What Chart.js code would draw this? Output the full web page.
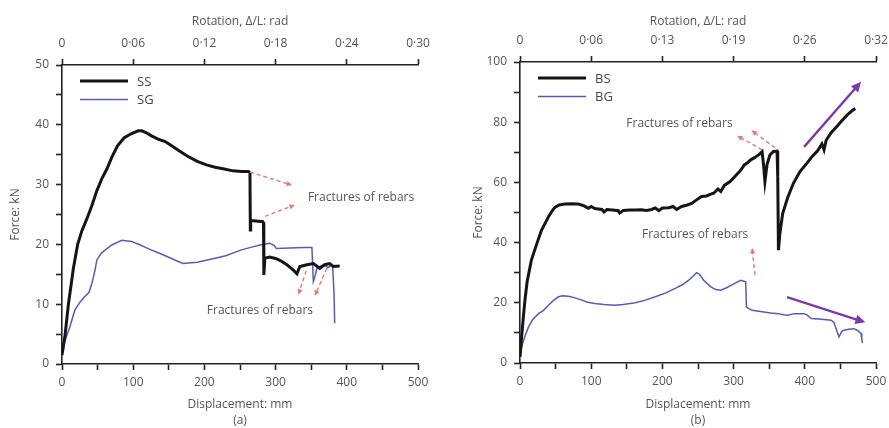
<!DOCTYPE html>
<html>
<head>
<meta charset="utf-8">
<script src="https://cdn.jsdelivr.net/npm/chart.js@4.4.1/dist/chart.umd.min.js"></script>
<style>
    html, body { margin: 0; padding: 0; background: #fff; overflow: hidden; }
    .painel { position: absolute; top: 0; }
</style>
</head>
<body>
<div class="painel" style="left:0px"><canvas id="graficoA" width="445" height="428"></canvas></div>
<div class="painel" style="left:444px"><canvas id="graficoB" width="460" height="428"></canvas></div>
<script>
// painel (a): SS e SG
const ssDesloc = [0, 4, 9, 16, 22, 28, 35, 42, 49, 56, 63, 70, 78, 87, 97, 107, 112, 118, 125, 135, 145, 155, 165, 177, 190, 203, 215, 228, 240, 252, 262, 264, 264.5, 265, 282, 283, 283.5, 285, 292, 301, 308, 316, 325, 330, 334, 344, 353, 362, 369, 376, 381, 390];
const ssForca = [1.5, 4.5, 10, 16, 20, 22.3, 24.3, 26.5, 29, 31, 32.6, 34.6, 36.5, 37.8, 38.5, 39, 39, 38.7, 38.2, 37.6, 37.2, 36.4, 35.6, 34.7, 33.9, 33.3, 32.9, 32.6, 32.3, 32.2, 32.2, 32, 22.4, 24, 23.8, 23.6, 14.9, 17.7, 17.9, 17.6, 17.2, 16.6, 15.7, 15.1, 16.3, 16.6, 16.8, 16, 16.6, 16.8, 16.3, 16.4];
const sgDesloc = [0, 3, 11, 18, 25, 32, 38, 42, 46, 49, 55, 60, 70, 84, 98, 110, 121, 135, 149, 160, 170, 190, 212, 230, 250, 265, 278, 292, 298, 301, 320, 340, 351, 353, 355, 358, 362, 369, 373, 376, 380, 382, 383];
const sgForca = [1.5, 3.5, 6.2, 9, 10.3, 11.3, 12, 13.5, 15.5, 17.4, 18.5, 19, 19.9, 20.7, 20.5, 19.9, 19.3, 18.6, 17.9, 17.3, 16.8, 17, 17.6, 18.1, 19, 19.5, 19.9, 20.2, 19.8, 19.3, 19.4, 19.5, 19.5, 13.8, 14.5, 16, 16.3, 16.6, 16.1, 16.3, 16.6, 12, 6.8];

// painel (b): BS e BG
const bsDesloc = [0, 2, 5, 7, 10, 16, 22, 30, 40, 45, 49, 55, 63, 72, 82, 90, 96, 100, 105, 115, 118, 122, 130, 138, 140, 145, 155, 162, 170, 178, 185, 190, 195, 200, 209, 215, 220, 227, 235, 241, 248, 255, 262, 267, 272, 278, 282, 287, 295, 300, 305, 310, 315, 319, 324, 330, 336, 340, 342, 344, 347, 351, 356, 361, 362, 363, 365, 369, 376, 384, 393, 403, 410, 418, 424, 427, 430, 437, 445, 452, 460, 468, 471];
const bsForca = [2, 8, 16, 21, 27, 34.2, 38.5, 44, 48.6, 50.5, 51.7, 52.5, 52.8, 52.9, 52.8, 52.2, 51.4, 52, 51.3, 51, 50.2, 51, 50.8, 50.6, 49.8, 50.7, 50.8, 50.8, 50.9, 50.7, 51, 51.5, 50.6, 51.5, 51.6, 52, 51, 52, 52.5, 53, 54.2, 55.3, 55.5, 56, 56.4, 57.8, 57, 59, 60.3, 61.5, 62.8, 64, 65.8, 66.4, 67.5, 68.3, 69.3, 70.2, 66, 60.3, 66, 69.1, 70.3, 70.4, 62, 37.5, 43, 49.7, 55, 59.7, 63.5, 66.4, 68.5, 70.5, 72.8, 70.8, 74, 76.5, 78.6, 80.5, 82.5, 84.1, 84.5];
const bgDesloc = [0, 3, 7, 12, 18, 26, 33, 40, 47, 54, 60, 68, 75, 87, 95, 105, 118, 133, 145, 162, 175, 190, 205, 218, 228, 237, 243, 248, 252, 258, 268, 275, 282, 290, 301, 310, 317, 318, 322, 326, 340, 352, 363, 370, 376, 385, 399, 403, 409, 420, 437, 441, 444, 446, 448, 452, 455, 462, 469, 474, 479, 480, 481];
const bgForca = [2, 6, 9, 12, 14.5, 16.4, 17.5, 19.2, 20.8, 22, 22.3, 22.2, 21.8, 20.9, 20.2, 19.8, 19.4, 19.2, 19.4, 20, 20.8, 22, 23.3, 24.8, 26, 27.5, 28.8, 30, 29.5, 27.5, 25.3, 24.4, 24.2, 25, 26.4, 27.5, 27, 18.6, 18, 17.5, 17, 16.6, 16.4, 16, 15.9, 16.4, 16.4, 16, 14.8, 14.6, 14.2, 13.5, 11.4, 10, 8.7, 10.5, 10.9, 11.2, 11.4, 10.8, 9.8, 8, 6.6];

// rótulos do eixo de rotação (topo)
const rotacaoA = ['0', '0·06', '0·12', '0·18', '0·24', '0·30'];
const rotacaoB = ['0', '0·06', '0·13', '0·19', '0·26', '0·32'];

const CINZA = '#555';
const PRETO = '#151515';
const AZUL = '#5a5ab4';
const VERMELHO = '#e8777a';
const ROXO = '#7a3aa8';
const FONTE = "'Open Sans', 'Noto Sans', sans-serif";

function montarPontos(xs, ys) {
    return xs.map((x, i) => ({ x: x, y: ys[i] }));
}

function desenharSeta(ctx, x1, y1, x2, y2, cor, largura, tracejado, ponta) {
    ctx.save();
    ctx.strokeStyle = cor;
    ctx.fillStyle = cor;
    ctx.lineWidth = largura;
    ctx.setLineDash(tracejado);
    const ang = Math.atan2(y2 - y1, x2 - x1);
    ctx.beginPath();
    ctx.moveTo(x1, y1);
    ctx.lineTo(x2 - Math.cos(ang) * ponta * 0.6, y2 - Math.sin(ang) * ponta * 0.6);
    ctx.stroke();
    ctx.setLineDash([]);
    ctx.beginPath();
    ctx.moveTo(x2, y2);
    ctx.lineTo(x2 - ponta * Math.cos(ang - 0.45), y2 - ponta * Math.sin(ang - 0.45));
    ctx.lineTo(x2 - ponta * Math.cos(ang + 0.45), y2 - ponta * Math.sin(ang + 0.45));
    ctx.closePath();
    ctx.fill();
    ctx.restore();
}

// textos, setas e legenda desenhados sobre o gráfico
const pluginNotas = {
    id: 'notas',
    afterDatasetsDraw(chart, args, opts) {
        const { ctx, chartArea } = chart;
        const sx = chart.scales.x;
        const sy = chart.scales.y;

        ctx.save();
        ctx.font = '12px ' + FONTE;
        ctx.fillStyle = CINZA;
        ctx.textBaseline = 'middle';
        (opts.textos || []).forEach(t => {
            ctx.textAlign = 'center';
            ctx.fillText(t.texto, sx.getPixelForValue(t.x), sy.getPixelForValue(t.y));
        });
        ctx.restore();

        (opts.setasVermelhas || []).forEach(s => {
            desenharSeta(ctx, sx.getPixelForValue(s[0]), sy.getPixelForValue(s[1]),
                sx.getPixelForValue(s[2]), sy.getPixelForValue(s[3]), VERMELHO, 1.4, [4, 3], 6);
        });
        (opts.setasRoxas || []).forEach(s => {
            desenharSeta(ctx, sx.getPixelForValue(s[0]), sy.getPixelForValue(s[1]),
                sx.getPixelForValue(s[2]), sy.getPixelForValue(s[3]), ROXO, 2.4, [], 11);
        });

        // legenda
        ctx.save();
        ctx.font = '13px ' + FONTE;
        ctx.textBaseline = 'middle';
        ctx.textAlign = 'left';
        chart.data.datasets.forEach((ds, i) => {
            const yy = chartArea.top + 16 + i * 18.5;
            const x0 = chartArea.left + 18;
            ctx.strokeStyle = ds.borderColor;
            ctx.lineWidth = ds.borderWidth;
            ctx.beginPath();
            ctx.moveTo(x0, yy);
            ctx.lineTo(x0 + 48, yy);
            ctx.stroke();
            ctx.fillStyle = '#444';
            ctx.fillText(ds.label, x0 + 57, yy + 1);
        });
        ctx.restore();
    }
};

function criarGrafico(id, cfg) {
    const eixoBase = {
        type: 'linear',
        border: { display: true, color: '#222', width: 1.6 },
        grid: { drawOnChartArea: false, drawTicks: true, tickLength: 6, tickColor: '#222', tickWidth: 1.6 }
    };

    return new Chart(document.getElementById(id), {
        type: 'scatter',
        data: {
            datasets: [
                { label: cfg.nomes[0], data: montarPontos(cfg.series[0], cfg.series[1]), borderColor: PRETO, borderWidth: 3 },
                { label: cfg.nomes[1], data: montarPontos(cfg.series[2], cfg.series[3]), borderColor: AZUL, borderWidth: 1.5 }
            ].map(d => Object.assign(d, { showLine: true, pointRadius: 0, tension: 0, fill: false }))
        },
        options: {
            responsive: false,
            animation: false,
            layout: { padding: { left: 0, right: cfg.direita, top: 0, bottom: 0 } },
            plugins: {
                legend: { display: false },
                tooltip: { enabled: false },
                notas: cfg.notas
            },
            scales: {
                x: Object.assign({}, eixoBase, {
                    position: 'bottom', min: 0, max: 500,
                    afterFit: s => { s.height = cfg.baixo; },
                    ticks: {
                        stepSize: 50, color: CINZA, padding: 5, maxRotation: 0, autoSkip: false,
                        font: { family: FONTE, size: 12 },
                        callback: v => (v % 100 === 0 ? String(v) : '')
                    },
                    title: {
                        display: true, text: ['Displacement: mm', cfg.letra], color: CINZA,
                        font: { family: FONTE, size: 12, lineHeight: 1.3 }, padding: { top: 0, bottom: 0 }
                    }
                }),
                xTopo: Object.assign({}, eixoBase, {
                    position: 'top', min: 0, max: 500,
                    afterFit: s => { s.height = cfg.topo; },
                    ticks: {
                        stepSize: 100, color: CINZA, padding: 8, maxRotation: 0, autoSkip: false,
                        font: { family: FONTE, size: 12 },
                        callback: (v, i) => cfg.rotacao[i]
                    },
                    title: {
                        display: true, text: 'Rotation, Δ/L: rad', color: CINZA,
                        font: { family: FONTE, size: 12 }, padding: { top: 14, bottom: 0 }
                    }
                }),
                y: Object.assign({}, eixoBase, {
                    position: 'left', min: 0, max: cfg.yMax,
                    afterFit: s => { s.width = cfg.esquerda; },
                    ticks: {
                        stepSize: cfg.yMax / 10, color: CINZA, padding: 7, autoSkip: false,
                        font: { family: FONTE, size: 12 },
                        callback: v => (v % (cfg.yMax / 5) === 0 ? String(v) : '')
                    },
                    title: {
                        display: true, text: 'Force: kN', color: CINZA,
                        font: { family: FONTE, size: 12 }, padding: { top: cfg.tituloY, bottom: 0 }
                    }
                })
            }
        },
        plugins: [pluginNotas]
    });
}

criarGrafico('graficoA', {
    nomes: ['SS', 'SG'],
    series: [ssDesloc, ssForca, sgDesloc, sgForca],
    rotacao: rotacaoA, letra: '(a)', yMax: 50,
    esquerda: 62, direita: 27, topo: 65, baixo: 64, tituloY: 8,
    notas: {
        textos: [
            { texto: 'Fractures of rebars', x: 420, y: 27.9 },
            { texto: 'Fractures of rebars', x: 278, y: 9.0 }
        ],
        setasVermelhas: [
            [264, 32.1, 323, 29.9],
            [285, 24.7, 327, 26.6],
            [343, 15.6, 332, 11.6],
            [372, 16.0, 355, 11.4]
        ]
    }
});

criarGrafico('graficoB', {
    nomes: ['BS', 'BG'],
    series: [bsDesloc, bsForca, bgDesloc, bgForca],
    rotacao: rotacaoB, letra: '(b)', yMax: 100,
    esquerda: 76, direita: 28, topo: 62, baixo: 65, tituloY: 27,
    notas: {
        textos: [
            { texto: 'Fractures of rebars', x: 224, y: 79.5 },
            { texto: 'Fractures of rebars', x: 246, y: 42.8 }
        ],
        setasVermelhas: [
            [340, 70.8, 305, 75.5],
            [358, 71.5, 325, 77.3],
            [330, 29.2, 326, 38.2]
        ],
        setasRoxas: [
            [399, 71.8, 479, 93.4],
            [375, 21.9, 485, 13.5]
        ]
    }
});
</script>
</body>
</html>
